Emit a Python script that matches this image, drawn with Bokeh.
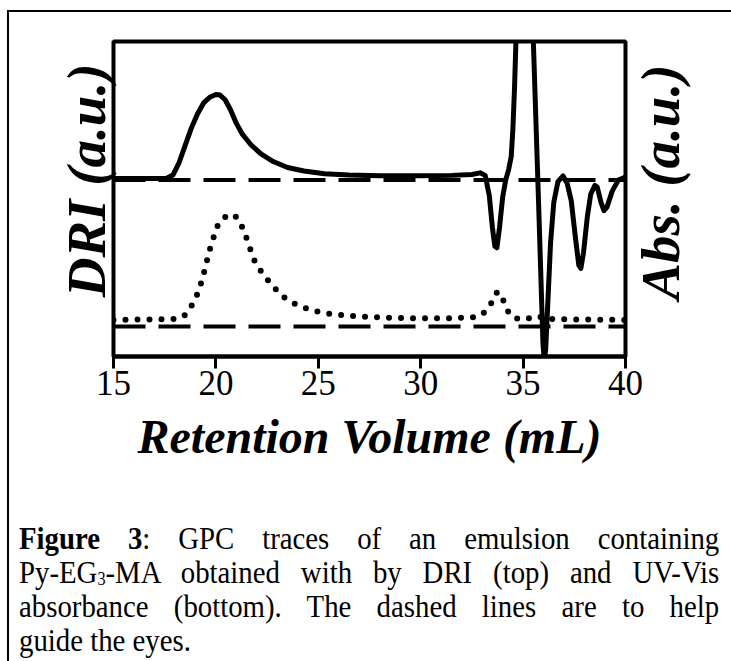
import math
from bokeh.plotting import figure
from bokeh.models import FixedTicker, Div, Range1d, Span, LinearAxis
from bokeh.layouts import column
from bokeh.embed import file_html
from bokeh.resources import INLINE

# ---- data ----
x_ticks = [15, 20, 25, 30, 35, 40]

dri_x = [15.0, 17.0, 17.6, 17.9, 18.2, 18.5, 18.8, 19.1, 19.4, 19.7, 20.0, 20.2,
         20.45, 20.7, 21.0, 21.3, 21.7, 22.2, 22.8, 23.5, 24.3, 25.3, 26.5, 28.0,
         30.0, 31.5, 32.5, 32.9, 33.15, 33.35, 33.5, 33.62, 33.72, 33.85, 34.0,
         34.15, 34.3, 34.42, 34.5, 34.58, 34.65, 34.75, 34.95, 35.2, 35.4, 35.5,
         35.75, 35.97, 36.03, 36.1, 36.2, 36.34, 36.5, 36.7, 36.95, 37.15, 37.35,
         37.55, 37.72, 37.82, 37.95, 38.13, 38.3, 38.5, 38.62, 38.8, 38.95, 39.1,
         39.35, 39.65, 40.0]
dri_y = [56.5, 56.5, 56.6, 57.6, 61.5, 67.0, 72.5, 77.0, 80.5, 82.3, 83.2, 83.0,
         81.5, 78.5, 74.0, 70.5, 67.3, 64.3, 61.9, 60.0, 58.9, 58.0, 57.6, 57.4,
         57.4, 57.5, 57.8, 58.3, 57.5, 51.0, 41.0, 35.0, 34.5, 41.0, 50.5,
         56.0, 59.5, 63.5, 72.0, 85.0, 100.0, 125.0, 150.0, 150.0, 118.0, 100.0,
         50.0, 4.0, -1.0, 2.0, 16.0, 36.0, 49.0, 55.5, 57.3, 55.0, 49.5,
         38.0, 29.0, 28.0, 33.0, 44.0, 51.5, 54.3, 53.8, 49.0, 46.3, 47.5,
         52.5, 56.0, 57.0]

abs_x = [15.0, 18.0, 18.3, 18.5, 18.76, 19.0, 19.2, 19.35, 19.5, 19.62, 19.77,
         19.93, 20.1, 20.42, 20.8, 21.12, 21.33, 21.53, 21.7, 21.88, 22.1, 22.4,
         22.67, 23.0, 23.32, 23.73, 24.17, 24.62, 25.1, 25.63, 26.4, 27.5, 29.0,
         31.0, 32.5, 32.86, 33.1, 33.3, 33.53, 33.73, 33.95, 34.12, 34.37, 34.8,
         35.4, 35.72, 36.1, 37.0, 40.0]
abs_y = [11.6, 11.9, 12.4, 13.2, 15.5, 18.3, 21.6, 25.0, 28.6, 32.0, 35.5,
         38.7, 41.8, 44.2, 45.2, 43.6, 40.3, 37.0, 33.7, 30.5, 28.0, 25.4,
         23.1, 20.8, 18.8, 17.1, 15.9, 14.8, 14.1, 13.5, 13.0, 12.5, 12.2,
         12.1, 12.4, 12.9, 14.0, 15.4, 17.8, 20.5, 19.5, 16.1, 13.1, 11.8,
         12.2, 12.8, 12.0, 11.8, 11.6]

guide_dri = 56.0
guide_abs = 9.5

x_title = "Retention Volume (mL)"
y_left_title = "DRI (a.u.)"
y_right_title = "Abs. (a.u.)"

FONT = "Liberation Serif"

# anchor positions (layout) of the rotated side titles, in y-axis units
LEFT_TITLE_TOP = 93.0      # right-aligned text -> anchor at its top end
RIGHT_TITLE_BOTTOM = 18.0  # left-aligned text -> anchor at its bottom end

p = figure(width=720, height=458, x_range=Range1d(15, 40), y_range=Range1d(0, 100),
           output_backend="svg", toolbar_location=None,
           min_border_left=104, min_border_right=104, min_border_top=29,
           min_border_bottom=114)
p.grid.visible = False
p.outline_line_color = "black"
p.outline_line_width = 4
p.outline_line_alpha = 1.0

ax = p.xaxis[0]
ax.ticker = FixedTicker(ticks=x_ticks)
ax.major_tick_out = 12
ax.major_tick_in = 0
ax.major_tick_line_width = 3
ax.major_tick_line_color = "black"
ax.minor_tick_line_color = None
ax.axis_line_width = 4
ax.axis_line_color = "black"
ax.major_label_text_font = FONT
ax.major_label_text_font_size = "35px"
ax.major_label_text_color = "black"
ax.major_label_standoff = 2
ax.axis_label = x_title
ax.axis_label_text_font = FONT
ax.axis_label_text_font_style = "bold italic"
ax.axis_label_text_font_size = "48px"
ax.axis_label_text_color = "black"
ax.axis_label_standoff = 12


def style_y(axis, label, anchor, standoff):
    axis.ticker = FixedTicker(ticks=[anchor])
    axis.major_label_overrides = {anchor: label}
    axis.major_label_orientation = math.pi / 2
    axis.axis_line_color = None
    axis.major_tick_line_color = None
    axis.minor_tick_line_color = None
    axis.major_tick_out = 0
    axis.major_tick_in = 0
    axis.major_label_standoff = standoff
    axis.major_label_text_font = FONT
    axis.major_label_text_font_style = "bold italic"
    axis.major_label_text_font_size = "55px"
    axis.major_label_text_color = "black"


style_y(p.yaxis[0], y_left_title, LEFT_TITLE_TOP, 27)
right_axis = LinearAxis()
style_y(right_axis, y_right_title, RIGHT_TITLE_BOTTOM, 35)
p.add_layout(right_axis, "right")

p.add_layout(Span(location=guide_dri, dimension="width", line_color="black",
                  line_width=4, line_dash="32 13"))
p.add_layout(Span(location=guide_abs, dimension="width", line_color="black",
                  line_width=4, line_dash="32 13"))

p.line(dri_x, dri_y, line_color="black", line_width=5, line_join="round")
p.line(abs_x, abs_y, line_color="black", line_width=6, line_dash="0 12",
       line_cap="round")

SQ = 0.9
line_style = "text-align:justify;text-align-last:justify;white-space:nowrap;"
caption_html = (
    f"<div style=\"font-family:'{FONT}';font-size:32px;line-height:34px;color:black;"
    f"padding-top:46px;width:{700 / SQ:.0f}px;transform:scaleX({SQ});"
    "transform-origin:0 0;\">"
    f"<div style=\"{line_style}\"><b>Figure 3</b>: GPC traces of an emulsion containing</div>"
    f"<div style=\"{line_style}\">Py-EG<span style=\"font-size:18px;line-height:18px;vertical-align:-2px;\">3</span>-MA obtained with by DRI (top) and UV-Vis</div>"
    f"<div style=\"{line_style}\">absorbance (bottom). The dashed lines are to help</div>"
    "<div style=\"text-align:left;\">guide the eyes.</div>"
    "</div>"
)
caption = Div(text=caption_html, width=712, height=175,
              styles={"overflow": "visible", "margin-left": "10px"})

layout = column(p, caption, spacing=0,
                styles={"border-top": "2px solid black", "border-left": "2px solid black",
                        "margin-top": "10px", "margin-left": "7px",
                        "padding-bottom": "14px"})

open("out.html", "w").write(file_html(layout, INLINE))
